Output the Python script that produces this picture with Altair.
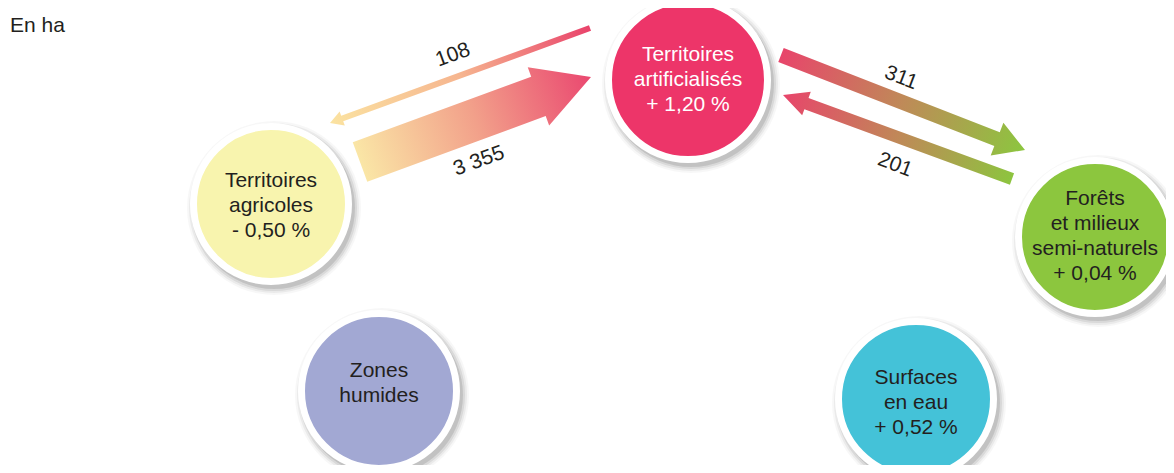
import math
import altair as alt
import pandas as pd

# ---------------- data ----------------
node_names = [
    "Territoires\nartificialisés",
    "Territoires\nagricoles",
    "Forêts\net milieux\nsemi-naturels",
    "Zones\nhumides",
    "Surfaces\nen eau",
]
node_changes = ["+ 1,20 %", "- 0,50 %", "+ 0,04 %", "", "+ 0,52 %"]

flow_from = [0, 1, 0, 2]
flow_to = [1, 0, 2, 0]
flow_values = [108, 3355, 311, 201]

# ---------------- layout / style ----------------
W, H = 1158, 457
node_x = [688, 271, 1095, 379, 916]
node_y = [80, 204, 237, 391, 399]
node_text_y = [80, 206, 236, 383, 403]
node_r = [76, 74, 73, 74, 74]
node_fill = ["#ed3569", "#f8f4ae", "#8cc63e", "#a2a8d3", "#44c2d8"]
node_tcol = ["#ffffff", "#231f20", "#231f20", "#231f20", "#231f20"]
RING = 7
LINE_H = 25

# arrows: tail(x,y), tip(x,y), shaft width, head width, head length, gradient tail->head
arrow_tail = [(590, 28), (360, 162), (781, 55), (1012, 179)]
arrow_tip = [(330, 123), (591, 77), (1025, 150), (783, 95)]
arrow_w = [6, 42, 15, 12]
arrow_hw = [15, 62, 35, 25]
arrow_hl = [13, 56, 30, 25]
arrow_grad = [
    ["#e9436b", "#f6b58f", "#fbe3a1"],
    ["#fae6a6", "#f2a08a", "#ea4870"],
    ["#e8456b", "#bf8a58", "#8cc63f"],
    ["#8dc43f", "#c08858", "#e8456b"],
]
label_pos = [(453, 55), (479, 161), (901, 78), (895, 165)]
label_angle = [340, 340, 21, 21]

FONT = "Liberation Sans"

# one data unit = one pixel of the 1174x473 page (chart sits at an 8px margin)
xs = alt.Scale(domain=[8, W + 8], nice=False, zero=False)
ys = alt.Scale(domain=[8, H + 8], nice=False, zero=False, reverse=True)


def fmt(v):
    return f"{v:,}".replace(",", " ")


nodes = pd.DataFrame({
    "x": node_x,
    "y": node_y,
    "size": [(2 * r + RING) ** 2 for r in node_r],
    "fill": node_fill,
})

# one row per text line of each node
rows = []
for i, (n, c) in enumerate(zip(node_names, node_changes)):
    lines = n.split("\n") + ([c] if c else [])
    k = len(lines)
    for j, ln in enumerate(lines):
        rows.append({
            "node": i,
            "line": ln,
            "x": node_x[i],
            "y": node_text_y[i] + (j - (k - 1) / 2) * LINE_H,
            "tcol": node_tcol[i],
        })
node_text = pd.DataFrame(rows)

layers = []

# soft shadows
for k, op in [(0, 0.10), (2, 0.07), (4, 0.05), (6, 0.03)]:
    sh = pd.DataFrame({
        "x": [x + 3 for x in node_x],
        "y": [y + 4 for y in node_y],
        "size": [(2 * (r + RING + k)) ** 2 for r in node_r],
    })
    layers.append(
        alt.Chart(sh).mark_point(shape="circle", filled=True, color="#000000",
                                 opacity=op, strokeWidth=0).encode(
            x=alt.X("x:Q", scale=xs, axis=None),
            y=alt.Y("y:Q", scale=ys, axis=None),
            size=alt.Size("size:Q", scale=None),
        )
    )

# circles
layers.append(
    alt.Chart(nodes).mark_point(shape="circle", filled=True, opacity=1,
                                stroke="#ffffff", strokeWidth=RING).encode(
        x=alt.X("x:Q", scale=xs, axis=None),
        y=alt.Y("y:Q", scale=ys, axis=None),
        size=alt.Size("size:Q", scale=None),
        fill=alt.Fill("fill:N", scale=None),
    )
)

# arrows
for i in range(len(flow_values)):
    (tx, ty), (px, py) = arrow_tail[i], arrow_tip[i]
    L = math.hypot(px - tx, py - ty)
    ang = math.degrees(math.atan2(py - ty, px - tx)) % 360
    a = arrow_w[i] / L
    b = arrow_hw[i] / L
    hb = 1 - 2 * arrow_hl[i] / L
    path = (f"M -1 {-a:.4f} L {hb:.4f} {-a:.4f} L {hb:.4f} {-b:.4f} L 1 0 "
            f"L {hb:.4f} {b:.4f} L {hb:.4f} {a:.4f} L -1 {a:.4f} Z")
    df = pd.DataFrame({
        "from": [node_names[flow_from[i]]],
        "to": [node_names[flow_to[i]]],
        "value": [flow_values[i]],
        "x": [(tx + px) / 2],
        "y": [(ty + py) / 2],
        "angle": [ang],
        "size": [L * L],
    })
    stops = [alt.GradientStop(color=c, offset=j / (len(arrow_grad[i]) - 1))
             for j, c in enumerate(arrow_grad[i])]
    grad = alt.LinearGradient(gradient="linear", stops=stops, x1=0, x2=1, y1=0, y2=0)
    layers.append(
        alt.Chart(df).mark_point(shape=path, filled=True, fill=grad, opacity=1,
                                 strokeWidth=0).encode(
            x=alt.X("x:Q", scale=xs, axis=None),
            y=alt.Y("y:Q", scale=ys, axis=None),
            size=alt.Size("size:Q", scale=None),
            angle=alt.Angle("angle:Q", scale=None),
        )
    )

# flow labels
flows = pd.DataFrame({
    "label": [fmt(v) for v in flow_values],
    "x": [p[0] for p in label_pos],
    "y": [p[1] for p in label_pos],
    "angle": label_angle,
})
layers.append(
    alt.Chart(flows).mark_text(font=FONT, fontSize=21, color="#231f20",
                               align="center", baseline="middle").encode(
        x=alt.X("x:Q", scale=xs, axis=None),
        y=alt.Y("y:Q", scale=ys, axis=None),
        text="label:N",
        angle=alt.Angle("angle:Q", scale=None),
    )
)

# node labels
layers.append(
    alt.Chart(node_text).mark_text(font=FONT, fontSize=21,
                                   align="center", baseline="middle").encode(
        x=alt.X("x:Q", scale=xs, axis=None),
        y=alt.Y("y:Q", scale=ys, axis=None),
        text="line:N",
        color=alt.Color("tcol:N", scale=None),
    )
)

# unit note
unit = pd.DataFrame({"t": ["En ha"], "x": [10], "y": [26]})
layers.append(
    alt.Chart(unit).mark_text(font=FONT, fontSize=21, color="#231f20",
                              align="left", baseline="middle").encode(
        x=alt.X("x:Q", scale=xs, axis=None),
        y=alt.Y("y:Q", scale=ys, axis=None),
        text="t:N",
    )
)

chart = alt.layer(*layers).properties(
    width=W, height=H, padding=0,
    autosize=alt.AutoSizeParams(type="none"),
).configure_view(stroke=None)

chart.save("out.html", embed_options={"renderer": "svg", "actions": False})
